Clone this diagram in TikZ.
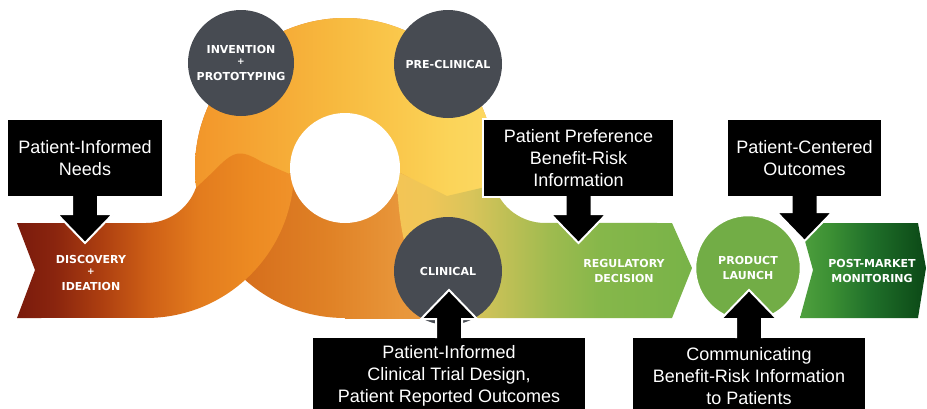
\documentclass[tikz,border=0pt]{standalone}
\usepackage{fontspec}
\setmainfont{Liberation Sans}
\newfontfamily\stagefont{DejaVu Sans}
\usetikzlibrary{calc}

% palette
\definecolor{stagegray}{HTML}{474B52}
\definecolor{launchgreen}{HTML}{72AD46}
\definecolor{dsA}{HTML}{7A1A0C}
\definecolor{dsB}{HTML}{8A250E}
\definecolor{dsC}{HTML}{AC3E10}
\definecolor{dsD}{HTML}{CF6016}
\definecolor{dsE}{HTML}{E37C1E}
\definecolor{dsF}{HTML}{EC8A22}
\definecolor{dsG}{HTML}{F0922A}
\definecolor{tpA}{HTML}{F2962A}
\definecolor{tpB}{HTML}{F5A634}
\definecolor{tpC}{HTML}{F7B83E}
\definecolor{tpD}{HTML}{FAC84C}
\definecolor{tpE}{HTML}{FBD459}
\definecolor{tpF}{HTML}{FCD862}
\definecolor{lrA}{HTML}{D06418}
\definecolor{lrB}{HTML}{D8721E}
\definecolor{lrC}{HTML}{E08226}
\definecolor{lrD}{HTML}{E8963A}
\definecolor{lrE}{HTML}{ECA44A}
\definecolor{rbA}{HTML}{F4C555}
\definecolor{rbB}{HTML}{EFC657}
\definecolor{rbC}{HTML}{D9C45A}
\definecolor{rbD}{HTML}{BCBF55}
\definecolor{rbE}{HTML}{9FBB4F}
\definecolor{rbF}{HTML}{86B74A}
\definecolor{rbG}{HTML}{78B348}
\definecolor{pmA}{HTML}{4FA03E}
\definecolor{pmB}{HTML}{3C9034}
\definecolor{pmC}{HTML}{20702A}
\definecolor{pmD}{HTML}{0B4816}

% horizontal gradients; the 25bp..75bp part spans the shaded rectangle
\pgfdeclarehorizontalshading{discshade}{100bp}{color(0bp)=(dsA); color(25bp)=(dsA); color(31.86bp)=(dsB); color(39.98bp)=(dsC); color(49.01bp)=(dsD); color(58.03bp)=(dsE); color(67.06bp)=(dsF); color(75bp)=(dsG); color(100bp)=(dsG)}
\pgfdeclarehorizontalshading{topshade}{100bp}{color(0bp)=(tpA); color(25bp)=(tpA); color(35.83bp)=(tpB); color(47.5bp)=(tpC); color(59.17bp)=(tpD); color(67.5bp)=(tpE); color(75bp)=(tpF); color(100bp)=(tpF)}
\pgfdeclarehorizontalshading{lowshade}{100bp}{color(0bp)=(lrA); color(25bp)=(lrA); color(35.83bp)=(lrB); color(47.5bp)=(lrC); color(59.17bp)=(lrD); color(75bp)=(lrE); color(100bp)=(lrE)}
\pgfdeclarehorizontalshading{bandshade}{100bp}{color(0bp)=(rbA); color(25bp)=(rbA); color(30.89bp)=(rbB); color(37.63bp)=(rbC); color(44.36bp)=(rbD); color(51.09bp)=(rbE); color(59.51bp)=(rbF); color(75bp)=(rbG); color(100bp)=(rbG)}
\pgfdeclarehorizontalshading{postshade}{100bp}{color(0bp)=(pmA); color(25bp)=(pmA); color(36.9bp)=(pmB); color(52.78bp)=(pmC); color(75bp)=(pmD); color(100bp)=(pmD)}

% callout arrows: a fat arrow from a box edge to a tip coordinate
\newcommand{\calldown}[2]{\draw[callarrow] ($(#1.south)+(-13,-1)$) -- ($(#2)+(-13,-29)$) -- ($(#2)+(-28,-29)$) -- (#2) -- ($(#2)+(28,-29)$) -- ($(#2)+(13,-29)$) -- ($(#1.south)+(13,-1)$);}
\newcommand{\callup}[2]{\draw[callarrow] ($(#1.north)+(-13,1)$) -- ($(#2)+(-13,29)$) -- ($(#2)+(-28,29)$) -- (#2) -- ($(#2)+(28,29)$) -- ($(#2)+(13,29)$) -- ($(#1.north)+(13,1)$);}
\newcommand{\stageplus}{{\fontsize{9pt}{9pt}\selectfont +}}

\begin{document}
\begin{tikzpicture}[x=1pt, y=1pt, yscale=-1,
  stagetype/.style={font=\stagefont\bfseries\fontsize{11pt}{15pt}\selectfont, text=white, align=center, inner sep=0pt},
  stagetext/.style={stagetype},
  stagecircle/.style={stagetype, circle, fill=stagegray},
  callbox/.style={rectangle, fill=black, draw=white, line width=2pt, outer sep=0pt, inner sep=0pt,
    minimum height=78pt, text=white, align=center, font=\fontsize{18pt}{22pt}\selectfont},
  callarrow/.style={fill=black, draw=white, line width=2pt, line join=miter}]

\path[use as bounding box, fill=white] (0,0) rectangle (927,408);

% lower half of the loop
\begin{scope}
  \clip (345,168) circle[radius=150];
  \shade[shading=lowshade] (195,0) rectangle (495,408);
\end{scope}
\begin{scope}
  \clip (345,260) rectangle (430,318);
  \shade[shading=lowshade] (195,0) rectangle (495,408);
\end{scope}

% upper half of the loop, ending in a chevron on the right
\begin{scope}
  \clip (345,168) circle[radius=150];
  \clip (150,0) -- (540,0) -- (540,198) -- (447,198) -- (395,170) -- (300,170) -- (240,190) -- (150,190) -- cycle;
  \shade[shading=topshade] (195,0) rectangle (495,408);
\end{scope}

% bend down from the loop into the regulatory band
\begin{scope}
  \clip (398,172) -- (447,196) -- (494,185) arc[start angle=163.5, end angle=90, radius=53]
    -- (672,223) -- (692,268) -- (672,318) -- (470,318) .. controls (420,318) and (397,250) .. (397,170) -- cycle;
  \shade[shading=bandshade] (395,0) rectangle (692,408);
\end{scope}

% discovery band bending up into the loop
\begin{scope}
  \clip (17,223) -- (146,223) arc[start angle=90, end angle=20, radius=53]
    -- (214,171) .. controls (234,150) and (240,149) .. (262,162) -- (293.9,175.9)
    arc[start angle=2.3, end angle=90, radius=148] -- (17,318) -- (35,270) -- cycle;
  \shade[shading=discshade] (17,0) rectangle (294,408);
\end{scope}

% hole of the loop
\fill[white] (345,168) circle[radius=55];

% post-market band
\begin{scope}
  \clip (800,223) -- (918,223) -- (926,268) -- (918,318) -- (800,318) -- (813,270) -- cycle;
  \shade[shading=postshade] (800,0) rectangle (926,408);
\end{scope}

% stages
\node[stagetext] (discovery) at (91,272.5) {DISCOVERY\\[-4pt]\stageplus\\[1pt]IDEATION};
\node[stagecircle, minimum size=106pt] (invention) at (241,63) {INVENTION\\[-4pt]\stageplus\\[1pt]PROTOTYPING};
\node[stagecircle, minimum size=108pt] (preclinical) at (448,64) {PRE-CLINICAL};
\node[stagecircle, minimum size=108pt] (clinical) at (448,271) {CLINICAL};
\node[stagetext] (regulatory) at (624,270.5) {REGULATORY\\DECISION};
\node[stagecircle, fill=launchgreen, draw=white, line width=2.5pt, minimum size=106pt] (launch) at (748,268) {PRODUCT\\LAUNCH};
\node[stagetext] (postmarket) at (872,270.5) {POST-MARKET\\MONITORING};

% callouts
\node[callbox, minimum width=156pt] (needs) at (85,158) {Patient-Informed\\Needs};
\node[callbox, minimum width=191pt] (preference) at (578.5,158) {Patient Preference\\Benefit-Risk\\Information};
\node[callbox, minimum width=155pt] (centered) at (804.5,158) {Patient-Centered\\Outcomes};
\node[callbox, minimum width=274pt] (trialdesign) at (449,376) {Patient-Informed\\Clinical Trial Design,\\Patient Reported Outcomes};
\node[callbox, minimum width=234pt] (communicating) at (749,376) {Communicating\\Benefit-Risk Information\\to Patients};

\coordinate (needsTip) at (85,243);
\coordinate (preferenceTip) at (578.5,243);
\coordinate (centeredTip) at (804.5,241);
\coordinate (trialTip) at (449,290);
\coordinate (commTip) at (749,290);

\calldown{needs}{needsTip}
\calldown{preference}{preferenceTip}
\calldown{centered}{centeredTip}
\callup{trialdesign}{trialTip}
\callup{communicating}{commTip}

\end{tikzpicture}
\end{document}
